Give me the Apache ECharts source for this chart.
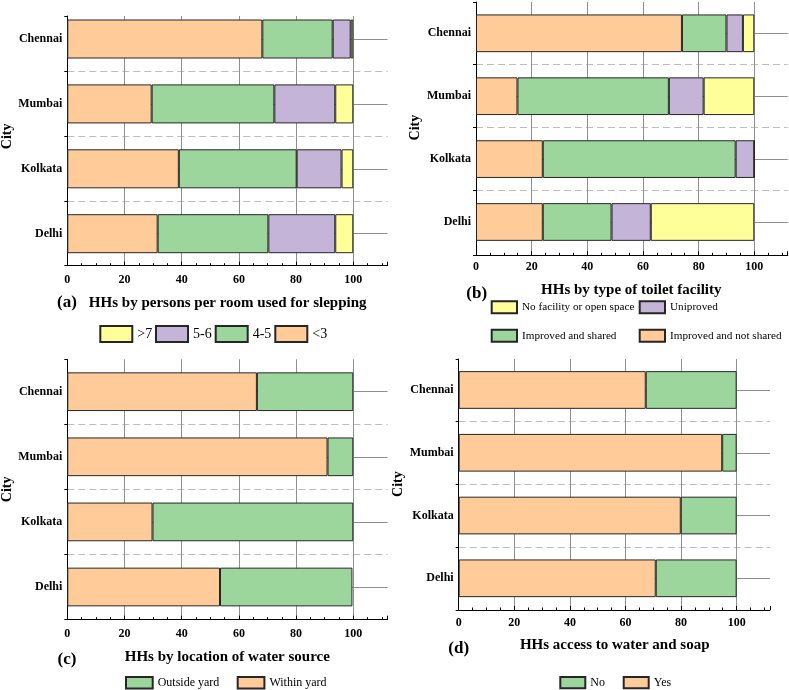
<!DOCTYPE html>
<html><head><meta charset="utf-8">
<script src="https://cdn.jsdelivr.net/npm/echarts@6/dist/echarts.min.js"></script>
<style>html,body{margin:0;padding:0;background:#fff}#c{width:789px;height:690px}</style>
</head><body><div id="c"></div>
<script>
// ---------------- DATA ----------------
const cities = ['Delhi', 'Kolkata', 'Mumbai', 'Chennai'];
const yAxisName = 'City';

// (a) HHs by persons per room used for slepping
const roomTitle = 'HHs by persons per room used for slepping';
const roomNames = ['<3', '4-5', '5-6', '>7'];
const roomLt3 = [31.6, 39.0, 29.5, 68.2];
const room45  = [38.7, 41.2, 42.9, 24.6];
const room56  = [23.4, 15.7, 21.3, 6.3];
const roomGt7 = [6.3, 4.1, 6.3, 0.9];

// (b) HHs by type of toilet facility
const toiletTitle = 'HHs by type of toilet facility';
const toiletNames = ['Improved and not shared', 'Improved and shared', 'Uniproved', 'No facility or open space'];
const toiletNotShared  = [24.0, 24.0, 14.9, 74.0];
const toiletShared     = [24.7, 69.3, 54.4, 16.0];
const toiletUnimproved = [14.1, 6.7, 12.5, 5.9];
const toiletNone       = [37.2, 0, 18.2, 4.1];

// (c) HHs by location of water source
const waterTitle = 'HHs by location of water source';
const waterNames = ['Within yard', 'Outside yard'];
const waterWithin  = [53.4, 29.8, 91.0, 66.3];
const waterOutside = [46.3, 70.2, 9.0, 33.7];

// (d) HHs access to water and soap
const soapTitle = 'HHs access to water and soap';
const soapNames = ['Yes', 'No'];
const soapYes = [70.9, 79.9, 94.8, 67.3];
const soapNo  = [29.1, 20.1, 5.2, 32.7];

const xMin = 0, xMax = 112, xStep = 20;

// ---------------- STYLE / LAYOUT ----------------
const SERIF = '"Liberation Serif", "Times New Roman", serif';
const C = { orange: '#FFCC99', green: '#9DD69D', purple: '#C4B4D7', yellow: '#FFFF99' };
const GRID_GRAY = '#8f8f8f';

const panels = [
  { tag: '(a)', title: roomTitle, left: 67.3, right: 387.6, fTop: 16, fBot: 265.7, cTop: 39, cBot: 233.7, dTop: 71, dBot: 201.2, barW: 39, lblMargin: 8, nameGap: 51,
    tagPos: [67, 303], titlePos: [227.7, 302.7],
    series: [[roomNames[0], roomLt3, C.orange], [roomNames[1], room45, C.green], [roomNames[2], room56, C.purple], [roomNames[3], roomGt7, C.yellow]],
    legends: [[roomNames[3], 99.3, 325], [roomNames[2], 155, 325], [roomNames[1], 214.7, 325], [roomNames[0], 274.3, 325]], legW: 32, legH: 16, legFs: 14 },
  { tag: '(b)', title: toiletTitle, left: 476, right: 787.7, fTop: 2, fBot: 255.3, cTop: 33.3, cBot: 222, dTop: 64, dBot: 190.7, barW: 37.7, lblMargin: 6, nameGap: 54,
    tagPos: [476.7, 293.3], titlePos: [631.3, 290],
    series: [[toiletNames[0], toiletNotShared, C.orange], [toiletNames[1], toiletShared, C.green], [toiletNames[2], toiletUnimproved, C.purple], [toiletNames[3], toiletNone, C.yellow]],
    legends: [[toiletNames[3], 490.7, 300.3], [toiletNames[2], 638.7, 300.3], [toiletNames[1], 490.7, 328.7], [toiletNames[0], 638.7, 328.7]], legW: 25.3, legH: 12, legFs: 11.2 },
  { tag: '(c)', title: waterTitle, left: 67.3, right: 387.6, fTop: 359.3, fBot: 619.7, cTop: 391.7, cBot: 587, dTop: 424.3, dBot: 554.3, barW: 38.7, lblMargin: 8, nameGap: 51.6,
    tagPos: [67, 660], titlePos: [227.3, 657.3],
    series: [[waterNames[0], waterWithin, C.orange], [waterNames[1], waterOutside, C.green]],
    legends: [[waterNames[1], 125, 676], [waterNames[0], 236.7, 676]], legW: 26.7, legH: 11.5, legFs: 12 },
  { tag: '(d)', title: soapTitle, left: 458.7, right: 770, fTop: 359, fBot: 610, cTop: 390, cBot: 578.3, dTop: 421.7, dBot: 547, barW: 37.7, lblMargin: 7, nameGap: 51,
    tagPos: [458.7, 648.3], titlePos: [614.7, 645],
    series: [[soapNames[0], soapYes, C.orange], [soapNames[1], soapNo, C.green]],
    legends: [[soapNames[1], 559.3, 676], [soapNames[0], 622.7, 676]], legW: 25, legH: 11.3, legFs: 12 }
];

const grid = [], xAxis = [], yAxis = [], series = [], legend = [], graphic = [];

panels.forEach((p, i) => {
  const w = p.right - p.left;
  const fi = i * 3, di = i * 3 + 1, pi = i * 3 + 2;
  grid.push({ left: p.left, top: p.fTop, width: w, height: p.fBot - p.fTop, outerBoundsMode: 'none', containLabel: false });
  grid.push({ left: p.left, top: p.dTop, width: w, height: p.dBot - p.dTop, outerBoundsMode: 'none', containLabel: false });
  grid.push({ left: p.left, top: p.cTop, width: w, height: p.cBot - p.cTop, outerBoundsMode: 'none', containLabel: false });

  xAxis.push({
    type: 'value', gridIndex: fi, min: xMin, max: xMax, interval: xStep,
    axisLine: { show: true, lineStyle: { color: '#000', width: 1 } },
    axisTick: { show: true, inside: true, length: 4, lineStyle: { color: '#000' } },
    minorTick: { show: true, splitNumber: 4, length: 2.5, lineStyle: { color: '#000' } },
    axisLabel: { show: true, showMaxLabel: false, margin: p.lblMargin, fontFamily: SERIF, fontWeight: 'bold', fontSize: 12, color: '#000' },
    splitLine: { show: true, showMinLine: false, showMaxLine: false, lineStyle: { color: GRID_GRAY, width: 1 } },
    minorSplitLine: { show: false }
  });
  xAxis.push({ type: 'value', gridIndex: di, min: xMin, max: xMax, show: false });
  xAxis.push({ type: 'value', gridIndex: pi, min: xMin, max: xMax, show: false });

  yAxis.push({
    type: 'value', gridIndex: fi, min: 0, max: 1, interval: 1,
    axisLine: { show: true, lineStyle: { color: '#000', width: 1 } },
    axisTick: { show: true, inside: false, length: 3, lineStyle: { color: '#000' } },
    axisLabel: { show: false }, splitLine: { show: false }
  });
  yAxis.push({
    type: 'value', gridIndex: di, min: 0, max: 2, interval: 1,
    axisLine: { show: false },
    axisTick: { show: true, inside: false, length: 3, lineStyle: { color: '#000' } },
    axisLabel: { show: false },
    splitLine: { show: true, lineStyle: { color: '#bdbdbd', width: 1, type: [7, 4] } }
  });
  yAxis.push({
    type: 'category', gridIndex: pi, data: cities, boundaryGap: false,
    name: yAxisName, nameLocation: 'middle', nameGap: p.nameGap,
    nameTextStyle: { fontFamily: SERIF, fontWeight: 'bold', fontSize: 14, color: '#000' },
    axisLine: { show: false }, axisTick: { show: false },
    axisLabel: { show: true, margin: 5, fontFamily: SERIF, fontWeight: 'bold', fontSize: 12, color: '#000' },
    splitLine: { show: true, lineStyle: { color: GRID_GRAY, width: 1 } }
  });

  p.series.forEach(([name, data, color]) => {
    series.push({
      type: 'bar', name, data, stack: 'st' + i, xAxisIndex: pi, yAxisIndex: pi,
      barWidth: p.barW, clip: false, z: 3,
      itemStyle: { color, borderColor: '#262626', borderWidth: 1 },
      emphasis: { disabled: true }, silent: true
    });
  });

  p.legends.forEach(([name, l, t]) => {
    legend.push({
      data: [name], left: l, top: t, padding: 0, itemGap: 0,
      itemWidth: p.legW, itemHeight: p.legH, icon: 'rect', selectedMode: false,
      textStyle: { fontFamily: SERIF, fontSize: p.legFs, color: '#000' }
    });
  });

  graphic.push({ type: 'text', x: p.tagPos[0], y: p.tagPos[1],
    style: { text: p.tag, font: 'bold 17px ' + SERIF, fill: '#000', align: 'center', verticalAlign: 'middle', textAlign: 'center', textVerticalAlign: 'middle' } });
  graphic.push({ type: 'text', x: p.titlePos[0], y: p.titlePos[1],
    style: { text: p.title, font: 'bold 15px ' + SERIF, fill: '#000', align: 'center', verticalAlign: 'middle', textAlign: 'center', textVerticalAlign: 'middle' } });
});

const chart = echarts.init(document.getElementById('c'), null, { renderer: 'canvas' });
chart.setOption({
  animation: false,
  backgroundColor: '#fff',
  textStyle: { fontFamily: SERIF },
  grid, xAxis, yAxis, series, legend, graphic
});
</script>
</body></html>
